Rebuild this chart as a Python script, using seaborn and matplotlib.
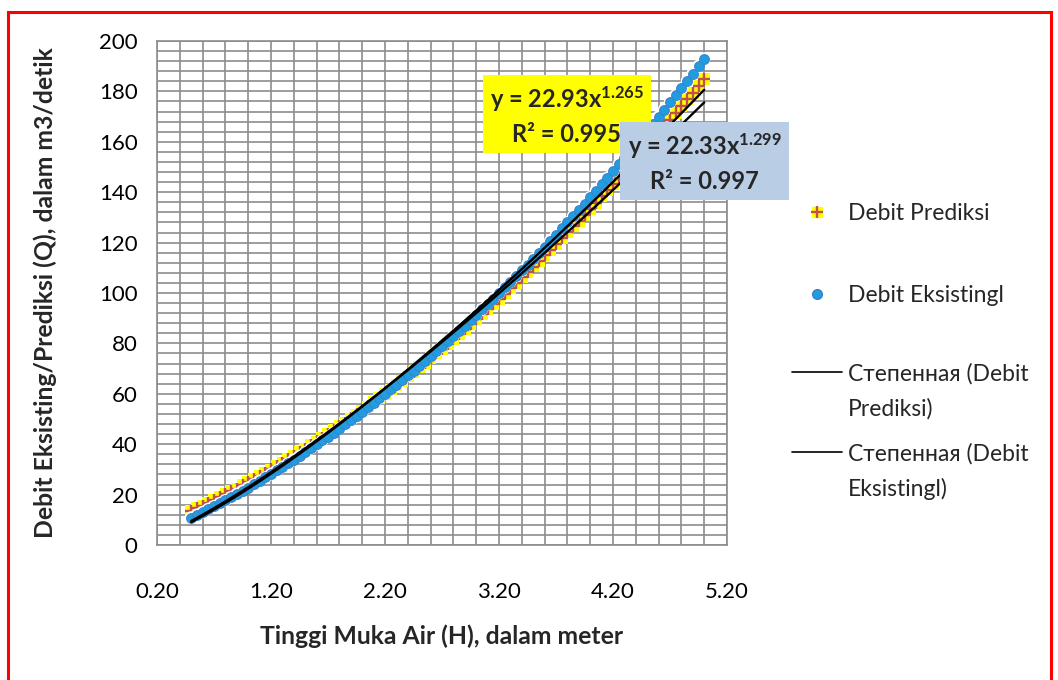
import matplotlib
matplotlib.use("Agg")
import matplotlib.pyplot as plt
from matplotlib.ticker import MultipleLocator
from matplotlib.patches import Rectangle
from matplotlib.lines import Line2D
import numpy as np
import seaborn as sns

# Water level H (m)
H = [0.50, 0.55, 0.60, 0.65, 0.70, 0.75, 0.80, 0.85, 0.90, 0.95,
     1.00, 1.05, 1.10, 1.15, 1.20, 1.25, 1.30, 1.35, 1.40, 1.45,
     1.50, 1.55, 1.60, 1.65, 1.70, 1.75, 1.80, 1.85, 1.90, 1.95,
     2.00, 2.05, 2.10, 2.15, 2.20, 2.25, 2.30, 2.35, 2.40, 2.45,
     2.50, 2.55, 2.60, 2.65, 2.70, 2.75, 2.80, 2.85, 2.90, 2.95,
     3.00, 3.05, 3.10, 3.15, 3.20, 3.25, 3.30, 3.35, 3.40, 3.45,
     3.50, 3.55, 3.60, 3.65, 3.70, 3.75, 3.80, 3.85, 3.90, 3.95,
     4.00, 4.05, 4.10, 4.15, 4.20, 4.25, 4.30, 4.35, 4.40, 4.45,
     4.50, 4.55, 4.60, 4.65, 4.70, 4.75, 4.80, 4.85, 4.90, 4.95,
     5.00]

# Predicted discharge (m3/s)
Q_prediksi = [13.5, 14.6, 15.6, 16.7, 17.8, 19.0, 20.1, 21.3, 22.4, 23.7,
              24.9, 26.1, 27.4, 28.7, 30.0, 31.3, 32.6, 34.0, 35.4, 36.8,
              38.2, 39.6, 41.1, 42.5, 44.0, 45.5, 47.1, 48.6, 50.2, 51.8,
              53.4, 55.0, 56.7, 58.3, 60.0, 61.7, 63.4, 65.2, 66.9, 68.7,
              70.5, 72.3, 74.2, 76.0, 77.9, 79.8, 81.7, 83.7, 85.6, 87.6,
              89.6, 91.6, 93.6, 95.7, 97.7, 99.8, 101.9, 104.1, 106.2, 108.4,
              110.5, 112.8, 115.0, 117.2, 119.5, 121.8, 124.1, 126.4, 128.7, 131.1,
              133.4, 135.8, 138.3, 140.7, 143.1, 145.6, 148.1, 150.6, 153.1, 155.7,
              158.3, 160.9, 163.5, 166.1, 168.7, 171.4, 174.1, 176.8, 179.5, 182.2,
              185.0]

# Existing discharge (m3/s)
Q_eksisting = [10.9, 12.0, 13.1, 14.3, 15.4, 16.6, 17.8, 19.0, 20.3, 21.5,
               22.8, 24.1, 25.5, 26.8, 28.2, 29.6, 31.0, 32.4, 33.9, 35.3,
               36.8, 38.4, 39.9, 41.5, 43.0, 44.6, 46.2, 47.9, 49.5, 51.2,
               52.9, 54.7, 56.4, 58.2, 59.9, 61.8, 63.6, 65.4, 67.3, 69.2,
               71.1, 73.0, 75.0, 76.9, 78.9, 80.9, 83.0, 85.0, 87.1, 89.2,
               91.3, 93.5, 95.6, 97.8, 100.0, 102.2, 104.5, 106.7, 109.0, 111.3,
               113.6, 116.0, 118.3, 120.7, 123.1, 125.6, 128.0, 130.5, 133.0, 135.5,
               138.0, 140.6, 143.1, 145.7, 148.3, 151.0, 153.6, 156.3, 159.0, 161.7,
               164.5, 167.2, 170.0, 172.8, 175.6, 178.5, 181.3, 184.2, 187.1, 190.1,
               193.0]

# Power trend coefficients: Q = a * H^b, with R²
trend_prediksi = (22.93, 1.265, 0.995)
trend_eksisting = (22.33, 1.299, 0.997)

x_ticks = [0.20, 1.20, 2.20, 3.20, 4.20, 5.20]
y_ticks = [0, 20, 40, 60, 80, 100, 120, 140, 160, 180, 200]

sns.set_style("white")
plt.rcParams["font.family"] = ["Lato", "DejaVu Sans"]
plt.rcParams["mathtext.default"] = "regular"

W, Hpx = 1058, 680
fig = plt.figure(figsize=(W / 100, Hpx / 100), dpi=100)
fig.patch.set_facecolor("white")
ax = fig.add_axes([157 / W, 1 - 545 / Hpx, (727 - 157) / W, (545 - 41) / Hpx])

grid_c = "#8c8c8c"
ax.set_xlim(x_ticks[0], x_ticks[-1])
ax.set_ylim(y_ticks[0], y_ticks[-1])
ax.set_xticks(x_ticks)
ax.set_xticklabels([f"{v:.2f}" for v in x_ticks])
ax.set_yticks(y_ticks)
ax.xaxis.set_minor_locator(MultipleLocator(0.2))
ax.yaxis.set_minor_locator(MultipleLocator(4))
ax.grid(True, which="both", color=grid_c, linewidth=1.2)
ax.set_axisbelow(True)
for s in ax.spines.values():
    s.set_color(grid_c)
    s.set_linewidth(1.2)
ax.tick_params(which="major", direction="out", length=6, width=1.2, color=grid_c,
               labelsize=16, labelcolor="black", pad=8)
ax.tick_params(which="minor", length=0)
ax.tick_params(axis="x", pad=21)

# Predicted discharge: yellow square under a red cross
sns.scatterplot(x=H, y=Q_prediksi, marker="s", s=72, color="#ffff00",
                edgecolor="none", ax=ax, zorder=3, legend=False)
sns.scatterplot(x=H, y=Q_prediksi, marker="+", s=66, color="#c0504d",
                linewidth=1.7, ax=ax, zorder=4, legend=False)
# Existing discharge: blue circles with a white halo
sns.scatterplot(x=H, y=Q_eksisting, marker="o", s=82, color="white",
                edgecolor="none", ax=ax, zorder=5, legend=False)
sns.scatterplot(x=H, y=Q_eksisting, marker="o", s=50, color="#1f9de0",
                edgecolor="#3f7ec6", linewidth=0.7, ax=ax, zorder=6, legend=False)

# Power-law trend lines
h_line = np.linspace(min(H), max(H), 200)
for a, b, _ in (trend_prediksi, trend_eksisting):
    sns.lineplot(x=h_line, y=a * h_line ** b, color="black", linewidth=1.7,
                 ax=ax, zorder=7, legend=False)

ax.set_xlabel("Tinggi Muka Air (H), dalam meter", fontsize=17.8,
              fontweight="bold", labelpad=16)
ax.set_ylabel("Debit Eksisting/Prediksi (Q), dalam m3/detik", fontsize=17.8,
              fontweight="bold", labelpad=30)

# Trend equation boxes
def eq_text(coef):
    a, b, r2 = coef
    return f"y = {a:.2f}x$^{{{b:.3f}}}$\nR² = {r2:.3f}"

ax.text(0.719, 0.853, eq_text(trend_prediksi), transform=ax.transAxes,
        ha="center", va="center", fontsize=17, fontweight="bold",
        multialignment="center", linespacing=1.45, zorder=9, clip_on=False,
        bbox=dict(boxstyle="square,pad=0.3", facecolor="#ffff00", edgecolor="none"))
ax.text(0.9605, 0.760, eq_text(trend_eksisting), transform=ax.transAxes,
        ha="center", va="center", fontsize=17, fontweight="bold",
        multialignment="center", linespacing=1.45, zorder=10, clip_on=False,
        bbox=dict(boxstyle="square,pad=0.3", facecolor="#b9cde5", edgecolor="none"))

# Legends
leg_kw = dict(loc="upper left", frameon=False, fontsize=16.5, handlelength=2.2,
              handletextpad=0.25, borderpad=0, borderaxespad=0)
h_pred = (Line2D([], [], marker="s", color="#ffff00", markersize=7.5, linestyle="none"),
          Line2D([], [], marker="+", color="#c0504d", markersize=8.5,
                 markeredgewidth=1.7, linestyle="none"))
h_eks = Line2D([], [], marker="o", color="#1f9de0", markeredgecolor="#3f7ec6",
               markersize=7, linestyle="none")
fig.legend([h_pred, h_eks], ["Debit Prediksi", "Debit Eksistingl"],
           bbox_to_anchor=(792 / W, 1 - 203 / Hpx), labelspacing=2.65, **leg_kw)

blank = Line2D([], [], linestyle="none")
for top, series in ((363, "Prediksi)"), (443, "Eksistingl)")):
    fig.legend([Line2D([], [], color="black", linewidth=1.2), blank],
               ["Степенная (Debit", series],
               bbox_to_anchor=(792 / W, 1 - top / Hpx), labelspacing=0.58, **leg_kw)

# Red outer border
fig.add_artist(Rectangle((8 / W, -0.05), (1051 - 8) / W, 0.05 + 1 - 12 / Hpx,
                         transform=fig.transFigure, fill=False,
                         edgecolor="#ff0000", linewidth=2.2))

fig.savefig("out.png", dpi=100, facecolor="white")
